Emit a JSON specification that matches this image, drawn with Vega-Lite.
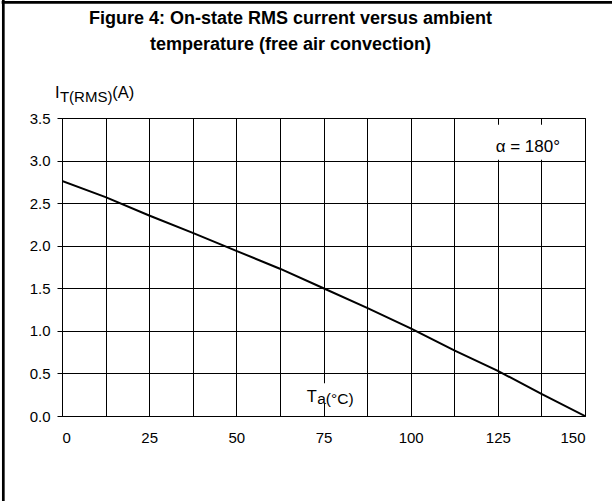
{
  "$schema": "https://vega.github.io/schema/vega-lite/v6.json",
  "width": 523,
  "height": 298,
  "autosize": {"type": "none"},
  "padding": {"left": 62, "top": 118, "right": 27, "bottom": 85},
  "background": "white",
  "config": {
    "font": "Liberation Sans",
    "view": {"stroke": "#000", "strokeWidth": 1},
    "axis": {"labelFont": "Liberation Sans", "labelColor": "#000", "gridColor": "#000", "gridOpacity": 1, "gridWidth": 1, "tickColor": "#000", "domain": false},
    "text": {"fill": "#000", "fontWeight": "normal", "font": "Liberation Sans"}
  },
  "title": {
    "text": ["Figure 4: On-state RMS current versus ambient", "temperature (free air convection)"],
    "font": "Liberation Sans",
    "fontSize": 18,
    "fontWeight": "bold",
    "color": "#000",
    "anchor": "middle",
    "frame": "group",
    "lineHeight": 26,
    "offset": -57,
    "dx": -33
  },
  "layer": [
    {
      "data": {"values": [{}]},
      "mark": {"type": "rect", "fill": "white"},
      "encoding": {
        "x": {"datum": 120.7},
        "x2": {"datum": 146.3},
        "y": {"datum": 3.01},
        "y2": {"datum": 3.42}
      }
    },
    {
      "data": {"values": [{}]},
      "mark": {"type": "rect", "fill": "white"},
      "encoding": {
        "x": {"datum": 68.8},
        "x2": {"datum": 86.5},
        "y": {"datum": 0.15},
        "y2": {"datum": 0.384}
      }
    },
    {
      "data": {"values": [{}]},
      "mark": {"type": "rule", "stroke": "#000", "strokeWidth": 2.7},
      "encoding": {
        "x": {"datum": -16.83},
        "y": {"datum": -1.2},
        "y2": {"datum": 4.9}
      }
    },
    {
      "data": {"values": [{}]},
      "mark": {"type": "rule", "stroke": "#000", "strokeWidth": 2.7},
      "encoding": {
        "y": {"datum": 4.857},
        "x": {"datum": -17.3},
        "x2": {"datum": 160}
      }
    },
    {
      "data": {"values": [{}]},
      "mark": {"type": "text", "text": "α = 180°", "fontSize": 17, "align": "center", "baseline": "alphabetic"},
      "encoding": {"x": {"datum": 133.6}, "y": {"datum": 3.104}}
    },
    {
      "data": {"values": [{}]},
      "mark": {"type": "text", "text": "T", "fontSize": 16.5, "align": "left", "baseline": "alphabetic"},
      "encoding": {"x": {"datum": 70.2}, "y": {"datum": 0.168}}
    },
    {
      "data": {"values": [{}]},
      "mark": {"type": "text", "text": "a(°C)", "fontSize": 15.5, "align": "left", "baseline": "alphabetic"},
      "encoding": {"x": {"datum": 73.2}, "y": {"datum": 0.145}}
    },
    {
      "data": {"values": [{}]},
      "mark": {"type": "text", "text": "I", "fontSize": 16.5, "align": "left", "baseline": "alphabetic"},
      "encoding": {"x": {"datum": -2.0}, "y": {"datum": 3.731}}
    },
    {
      "data": {"values": [{}]},
      "mark": {"type": "text", "text": "T(RMS)", "fontSize": 15, "align": "left", "baseline": "alphabetic"},
      "encoding": {"x": {"datum": -0.6}, "y": {"datum": 3.69}}
    },
    {
      "data": {"values": [{}]},
      "mark": {"type": "text", "text": "(A)", "fontSize": 16.5, "align": "left", "baseline": "alphabetic"},
      "encoding": {"x": {"datum": 14.4}, "y": {"datum": 3.731}}
    },
    {
      "data": {"values": [
        {"t": 0, "i": 2.76},
        {"t": 12.5, "i": 2.57},
        {"t": 25, "i": 2.355},
        {"t": 37.5, "i": 2.15},
        {"t": 50, "i": 1.94},
        {"t": 62.5, "i": 1.73},
        {"t": 75, "i": 1.5},
        {"t": 87.5, "i": 1.27},
        {"t": 100, "i": 1.03},
        {"t": 112.5, "i": 0.77},
        {"t": 125, "i": 0.53},
        {"t": 137.5, "i": 0.26},
        {"t": 150, "i": 0.0}
      ]},
      "mark": {"type": "line", "stroke": "#000", "strokeWidth": 2, "clip": true},
      "encoding": {
        "x": {
          "field": "t", "type": "quantitative",
          "scale": {"domain": [0, 150], "nice": false, "zero": false},
          "axis": {
            "title": null,
            "values": [0, 12.5, 25, 37.5, 50, 62.5, 75, 87.5, 100, 112.5, 125, 137.5, 150],
            "labelExpr": "datum.value % 25 === 0 ? format(datum.value, 'd') : ''",
            "ticks": false,
            "tickSize": 0,
            "labelPadding": 14,
            "labelFontSize": 15,
            "grid": true
          }
        },
        "y": {
          "field": "i", "type": "quantitative",
          "scale": {"domain": [0, 3.5], "nice": false, "zero": false},
          "axis": {
            "title": null,
            "values": [0, 0.25, 0.5, 0.75, 1, 1.25, 1.5, 1.75, 2, 2.25, 2.5, 2.75, 3, 3.25, 3.5],
            "labelExpr": "datum.value % 0.5 === 0 ? format(datum.value, '.1f') : ''",
            "tickSize": 5,
            "labelPadding": 7,
            "labelFontSize": 15,
            "grid": true
          }
        }
      }
    }
  ]
}
